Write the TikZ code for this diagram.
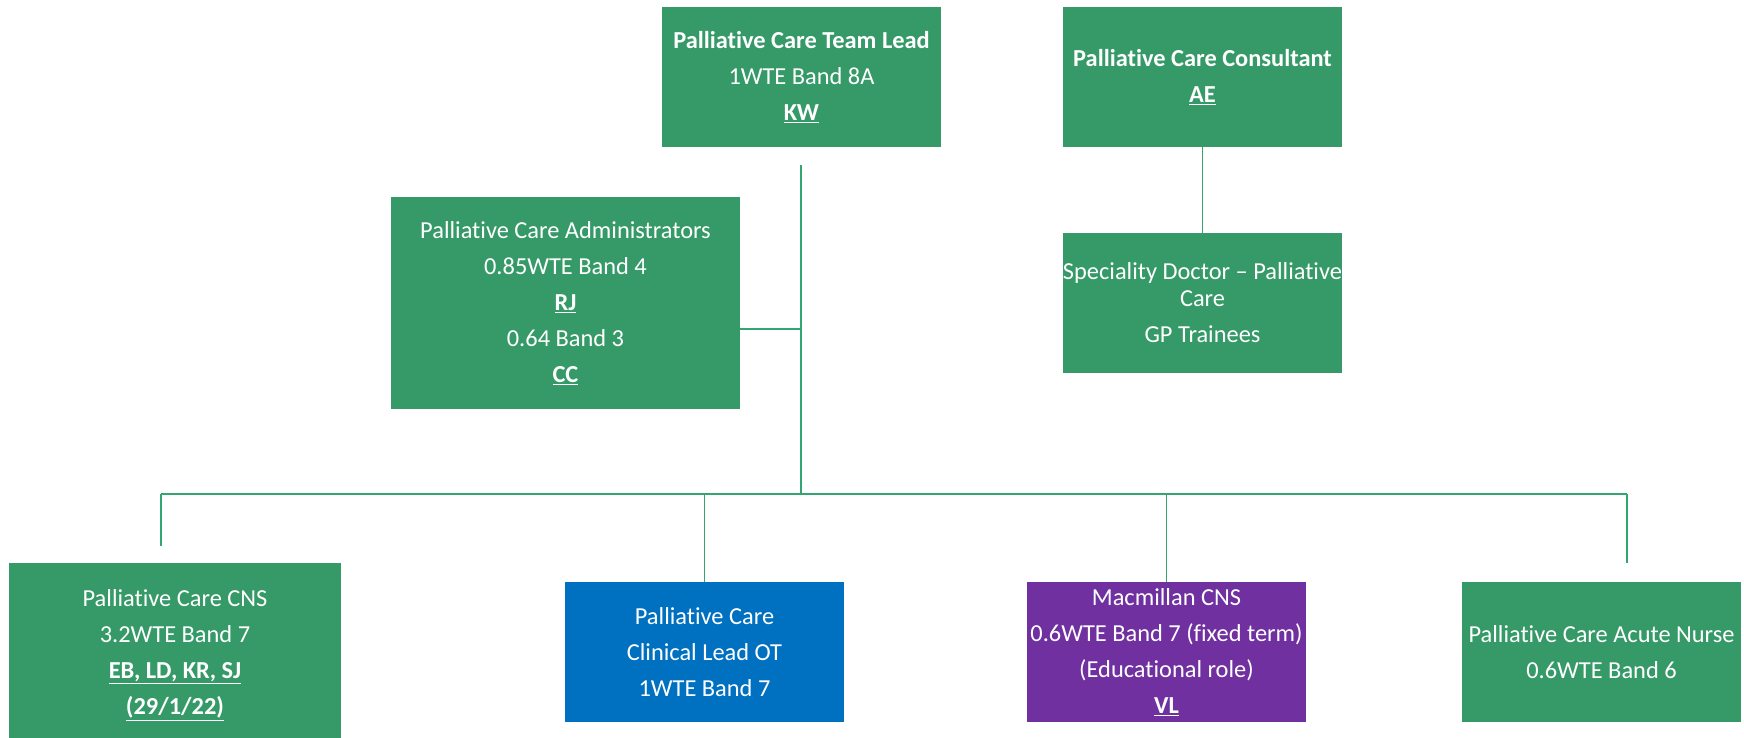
\documentclass[tikz,border=0pt]{standalone}
\usepackage{fontspec}
\setmainfont[Ligatures={NoCommon}]{Carlito}
\definecolor{boxgreen}{RGB}{53,154,104}
\definecolor{boxblue}{RGB}{0,112,192}
\definecolor{boxpurple}{RGB}{112,48,160}
\definecolor{linegreen}{RGB}{52,165,110}
\begin{document}
\begin{tikzpicture}[x=1pt,y=-1pt,
  orgbox/.style={rectangle, fill=boxgreen, text=white, inner sep=0pt, align=center,
    font=\fontsize{24.4}{36}\selectfont},
  conn/.style={draw=linegreen, line width=1.6pt}]
\useasboundingbox (0,0) rectangle (1744,737);
% boxes
\node[orgbox, minimum width=279, minimum height=140] (lead) at (801.5,77)
  {\textbf{Palliative Care Team Lead}\\1WTE Band 8A\\\underline{\textbf{KW}}};
\node[orgbox, minimum width=279, minimum height=140] (cons) at (1202.5,77)
  {\textbf{Palliative Care Consultant}\\\underline{\textbf{AE}}};
\node[orgbox, minimum width=349, minimum height=212] (admin) at (565.5,303)
  {Palliative Care Administrators\\0.85WTE Band 4\\\underline{\textbf{RJ}}\\0.64 Band 3\\\underline{\textbf{CC}}};
\node[orgbox, minimum width=279, minimum height=140] (spec) at (1202.5,303)
  {Speciality Doctor -- Palliative\\[-9pt]Care\\GP Trainees};
\node[orgbox, minimum width=332, minimum height=184] (cns) at (175,655)
  {Palliative Care CNS\\3.2WTE Band 7\\\underline{\textbf{EB, LD, KR, SJ}}\\\underline{\textbf{(29/1/22)}}};
\node[orgbox, fill=boxblue, minimum width=279, minimum height=140] (ot) at (704.5,652)
  {Palliative Care\\Clinical Lead OT\\1WTE Band 7};
\node[orgbox, fill=boxpurple, minimum width=279, minimum height=140] (mac) at (1166.5,652)
  {Macmillan CNS\\0.6WTE Band 7 (fixed term)\\(Educational role)\\\underline{\textbf{VL}}};
\node[orgbox, minimum width=279, minimum height=140] (acute) at (1601.5,652)
  {Palliative Care Acute Nurse\\0.6WTE Band 6};
% connector points
\coordinate (top) at (801,165);
\coordinate (hub) at (801,329);
\coordinate (busM) at (801,494);
\coordinate (busL) at (161,494);
\coordinate (busR) at (1627,494);
\coordinate (cnsEnd) at (161,546);
\coordinate (acuteEnd) at (1627,563);
% connectors
\draw[conn] (top) -- (busM);
\draw[conn] (admin.east |- hub) -- (hub);
\draw[conn] (busL) -- (busR);
\draw[conn] (busL) -- (cnsEnd);
\draw[conn] (ot.north |- busM) -- (ot.north);
\draw[conn] (mac.north |- busM) -- (mac.north);
\draw[conn] (busR) -- (acuteEnd);
\draw[conn] (cons.south) -- (spec.north);
\end{tikzpicture}
\end{document}
